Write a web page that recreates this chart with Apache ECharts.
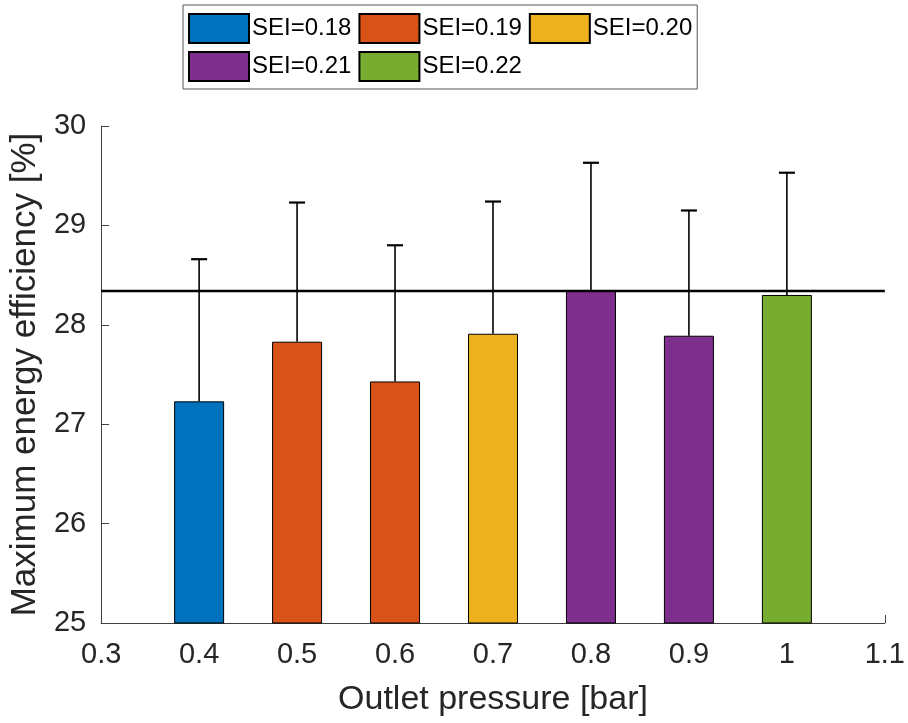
<!DOCTYPE html>
<html>
<head>
<meta charset="utf-8">
<script src="https://cdn.jsdelivr.net/npm/echarts@6/dist/echarts.min.js"></script>
<style>
html,body{margin:0;padding:0;background:#fff;}
#chart{width:908px;height:723px;}
</style>
</head>
<body>
<div id="chart"></div>
<script>
// ---- data ----
const pressures = [0.4, 0.5, 0.6, 0.7, 0.8, 0.9, 1.0];
const efficiency = [27.23, 27.83, 27.43, 27.91, 28.34, 27.89, 28.30];
const errorUpper = [1.43, 1.40, 1.37, 1.33, 1.29, 1.26, 1.23];
const seiOfBar = ['SEI=0.18', 'SEI=0.19', 'SEI=0.19', 'SEI=0.20', 'SEI=0.21', 'SEI=0.21', 'SEI=0.22'];
const seiNames = ['SEI=0.18', 'SEI=0.19', 'SEI=0.20', 'SEI=0.21', 'SEI=0.22'];
const referenceLine = 28.34;
const xTicks = [0.3, 1.1];
const yTicks = [25, 30];

const colors = ['#0072BD', '#D95319', '#EDB120', '#7E2F8E', '#77AC30'];
const font = 'Liberation Sans, Arial, sans-serif';

const barSeries = seiNames.map((name, si) => ({
  name: name,
  type: 'bar',
  barWidth: 50,
  barGap: '-100%',
  itemStyle: { color: colors[si], borderColor: '#000', borderWidth: 1 },
  data: pressures.map((p, i) => seiOfBar[i] === name ? [p, efficiency[i]] : null).filter(d => d),
  z: 3
}));

const errorSeries = {
  type: 'custom',
  name: 'err',
  z: 4,
  data: pressures.map((p, i) => [p, efficiency[i], efficiency[i] + errorUpper[i]]),
  renderItem: function (params, api) {
    const base = api.coord([api.value(0), api.value(1)]);
    const top = api.coord([api.value(0), api.value(2)]);
    const cap = 8;
    return {
      type: 'group',
      children: [
        { type: 'line', shape: { x1: base[0], y1: base[1], x2: top[0], y2: top[1] }, style: { stroke: '#000', lineWidth: 1.6 } },
        { type: 'line', shape: { x1: top[0] - cap, y1: top[1], x2: top[0] + cap, y2: top[1] }, style: { stroke: '#000', lineWidth: 2.2 } }
      ]
    };
  }
};

const refSeries = {
  type: 'line',
  name: 'ref',
  symbol: 'none',
  z: 5,
  lineStyle: { color: '#000', width: 2.5 },
  data: [[xTicks[0], referenceLine], [xTicks[1], referenceLine]]
};

const chart = echarts.init(document.getElementById('chart'), null, { renderer: 'canvas' });
chart.setOption({
  animation: false,
  textStyle: { fontFamily: font },
  grid: { left: 99, right: 17, top: 126, bottom: 100, containLabel: false },
  legend: {
    data: seiNames,
    left: 183,
    top: 5,
    width: 540,
    orient: 'horizontal',
    padding: [8, 5, 7, 5],
    itemGap: 7,
    itemWidth: 60,
    itemHeight: 29,
    icon: 'rect',
    borderColor: '#555',
    borderWidth: 1,
    textStyle: { fontSize: 24, color: '#000', fontFamily: font, padding: [0, 0, 0, -2] }
  },
  xAxis: {
    type: 'value',
    min: xTicks[0],
    max: xTicks[1],
    interval: 0.1,
    name: 'Outlet pressure [bar]',
    nameLocation: 'middle',
    nameGap: 60,
    nameTextStyle: { fontSize: 34, color: '#262626', fontFamily: font },
    splitLine: { show: false },
    axisLine: { show: true, lineStyle: { color: '#404040', width: 1 } },
    axisTick: { show: true, inside: true, length: 8, lineStyle: { color: '#404040' } },
    axisLabel: {
      fontSize: 29, color: '#262626', margin: 17,
      formatter: v => String(+v.toFixed(1))
    }
  },
  yAxis: {
    type: 'value',
    min: yTicks[0],
    max: yTicks[1],
    interval: 1,
    name: 'Maximum energy efficiency [%]',
    nameLocation: 'middle',
    nameGap: 56,
    nameTextStyle: { fontSize: 35, color: '#262626', fontFamily: font },
    splitLine: { show: false },
    axisLine: { show: true, lineStyle: { color: '#404040', width: 1 } },
    axisTick: { show: true, inside: true, length: 8, lineStyle: { color: '#404040' } },
    axisLabel: { fontSize: 29, color: '#262626', margin: 15 }
  },
  series: [...barSeries, errorSeries, refSeries]
});
</script>
</body>
</html>
